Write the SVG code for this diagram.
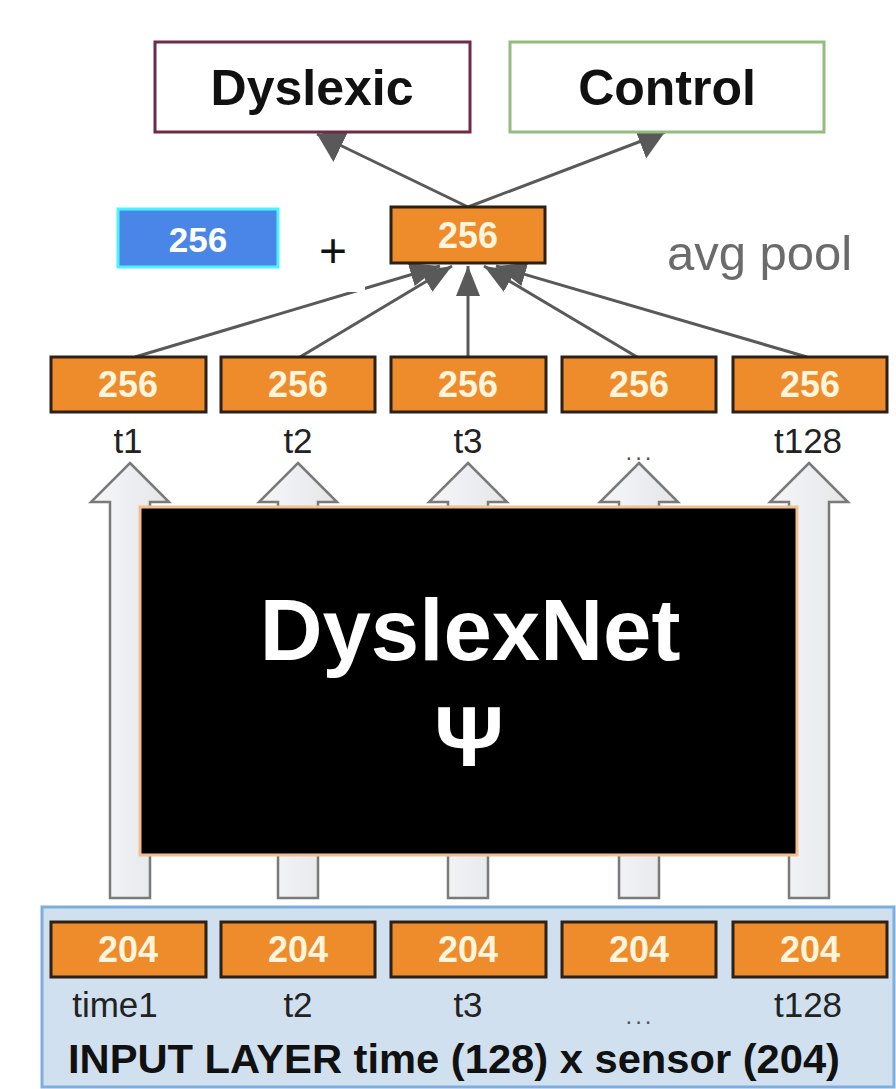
<svg xmlns="http://www.w3.org/2000/svg" width="896" height="1089" viewBox="0 0 896 1089">
  <style>
    .t { font-family: "Liberation Sans", Arial, sans-serif; }
    .cls { fill: #ffffff; stroke-width: 3; }
    .clsTxt { font-size: 50px; font-weight: bold; fill: #111; text-anchor: middle; }
    .ob { fill: #ee8b2b; stroke: #2b2118; stroke-width: 3; }
    .obTxt { font-size: 36px; font-weight: bold; fill: #fff4dc; text-anchor: middle; }
    .lbl { font-size: 35px; fill: #222; text-anchor: middle; }
    .dots { font-size: 24px; fill: #555; text-anchor: middle; letter-spacing: 3px; }
    .conn { stroke: #595959; stroke-width: 3; fill: none; marker-end: url(#ah); }
    .conn2 { stroke: #595959; stroke-width: 3; fill: none; marker-end: url(#ah2); }
    .hollow { fill: url(#hg); stroke: #7a7a7a; stroke-width: 2.5; stroke-linejoin: miter; }
  </style>
  <defs>
    <marker id="ah" viewBox="0 0 10 8" refX="10" refY="4" markerWidth="10" markerHeight="8" orient="auto" markerUnits="strokeWidth">
      <path d="M0,0 L10,4 L0,8 Z" fill="#595959"/>
    </marker>
    <marker id="ah2" viewBox="0 0 9 12" refX="9" refY="6" markerWidth="9" markerHeight="12" orient="auto" markerUnits="strokeWidth">
      <path d="M0,0 L9,6 L0,12 Z" fill="#595959"/>
    </marker>
    <linearGradient id="hg" x1="0" y1="0" x2="1" y2="0">
      <stop offset="0" stop-color="#f7f7f7"/>
      <stop offset="0.5" stop-color="#eceef2"/>
      <stop offset="1" stop-color="#e6e6e6"/>
    </linearGradient>
  </defs>

  <rect width="896" height="1089" fill="#ffffff"/>

  <!-- hollow block arrows -->
  <g id="block-arrows">
    <polygon class="hollow" points="130,463 169,502 150,502 150,898 110,898 110,502 91,502"/>
    <polygon class="hollow" points="298,463 337,502 318,502 318,898 278,898 278,502 259,502"/>
    <polygon class="hollow" points="468,463 507,502 488,502 488,898 448,898 448,502 429,502"/>
    <polygon class="hollow" points="639,463 678,502 659,502 659,898 619,898 619,502 600,502"/>
    <polygon class="hollow" points="809,463 848,502 829,502 829,898 789,898 789,502 770,502"/>
  </g>

  <!-- DyslexNet block -->
  <g id="dyslexnet">
    <rect x="140" y="507" width="657" height="348" fill="#000000" stroke="#f3c08c" stroke-width="3"/>
    <text class="t" x="470" y="660" font-size="87" font-weight="bold" fill="#ffffff" text-anchor="middle">DyslexNet</text>
    <text class="t" x="469" y="766" font-size="86" font-weight="bold" fill="#ffffff" text-anchor="middle">Ψ</text>
  </g>

  <!-- connectors -->
  <g id="connectors">
    <line class="conn2" x1="468" y1="207" x2="317" y2="134"/>
    <line class="conn2" x1="468" y1="207" x2="665" y2="132"/>
    <line class="conn" x1="135" y1="357" x2="440" y2="266"/>
    <line class="conn" x1="300" y1="357" x2="452" y2="266"/>
    <line class="conn" x1="468" y1="357" x2="468" y2="266"/>
    <line class="conn" x1="637" y1="357" x2="484" y2="266"/>
    <line class="conn" x1="807" y1="357" x2="496" y2="266"/>
  </g>

  <!-- plus sign with white backing -->
  <g id="plus">
    <rect x="300" y="222" width="65" height="70" fill="#ffffff"/>
    <text class="t" x="333" y="267" font-size="48" fill="#111" text-anchor="middle">+</text>
  </g>

  <g id="dyslexic">
    <rect class="cls" x="155" y="42" width="315" height="90" stroke="#6e2a48"/>
    <text class="t clsTxt" x="312" y="105">Dyslexic</text>
  </g>
  <g id="control">
    <rect class="cls" x="510" y="42" width="314" height="90" stroke="#93bd7e"/>
    <text class="t clsTxt" x="667" y="105">Control</text>
  </g>

  <g id="blue-256">
    <rect x="118" y="209" width="160" height="58" fill="#4a86e8" stroke="#4ef2ff" stroke-width="3"/>
    <text class="t" x="198" y="252" font-size="35" font-weight="bold" fill="#ffffff" text-anchor="middle">256</text>
  </g>

  <g id="pool-256">
    <rect class="ob" x="391" y="207" width="154" height="56"/>
    <text class="t obTxt" x="468" y="248">256</text>
  </g>
  <g id="avg-pool">
    <text class="t" x="667" y="270" font-size="49" fill="#6b6b6b">avg pool</text>
  </g>

  <!-- time step outputs -->
  <g id="out-t1">
    <rect class="ob" x="51" y="357" width="155" height="55"/>
    <text class="t obTxt" x="128" y="397">256</text>
    <text class="t lbl" x="128" y="453">t1</text>
  </g>
  <g id="out-t2">
    <rect class="ob" x="221" y="357" width="154" height="55"/>
    <text class="t obTxt" x="298" y="397">256</text>
    <text class="t lbl" x="298" y="453">t2</text>
  </g>
  <g id="out-t3">
    <rect class="ob" x="391" y="357" width="155" height="55"/>
    <text class="t obTxt" x="468" y="397">256</text>
    <text class="t lbl" x="468" y="453">t3</text>
  </g>
  <g id="out-tdots">
    <rect class="ob" x="562" y="357" width="154" height="55"/>
    <text class="t obTxt" x="639" y="397">256</text>
    <text class="t dots" x="640" y="460">...</text>
  </g>
  <g id="out-t128">
    <rect class="ob" x="733" y="357" width="154" height="55"/>
    <text class="t obTxt" x="810" y="397">256</text>
    <text class="t lbl" x="808" y="453">t128</text>
  </g>

  <!-- input layer -->
  <g id="input-layer">
    <rect x="42" y="907" width="852" height="180" fill="#d0e0ee" stroke="#7eaee0" stroke-width="3"/>
    <text class="t" x="68" y="1073" font-size="41" font-weight="bold" fill="#111" textLength="772" lengthAdjust="spacingAndGlyphs">INPUT LAYER time (128) x sensor (204)</text>
  </g>
  <g id="in-t1">
    <rect class="ob" x="51" y="922" width="155" height="55"/>
    <text class="t obTxt" x="128" y="962">204</text>
    <text class="t lbl" x="115" y="1017">time1</text>
  </g>
  <g id="in-t2">
    <rect class="ob" x="221" y="922" width="154" height="55"/>
    <text class="t obTxt" x="298" y="962">204</text>
    <text class="t lbl" x="298" y="1017">t2</text>
  </g>
  <g id="in-t3">
    <rect class="ob" x="391" y="922" width="155" height="55"/>
    <text class="t obTxt" x="468" y="962">204</text>
    <text class="t lbl" x="468" y="1017">t3</text>
  </g>
  <g id="in-tdots">
    <rect class="ob" x="562" y="922" width="154" height="55"/>
    <text class="t obTxt" x="639" y="962">204</text>
    <text class="t dots" x="640" y="1024">...</text>
  </g>
  <g id="in-t128">
    <rect class="ob" x="733" y="922" width="154" height="55"/>
    <text class="t obTxt" x="810" y="962">204</text>
    <text class="t lbl" x="808" y="1017">t128</text>
  </g>
</svg>
